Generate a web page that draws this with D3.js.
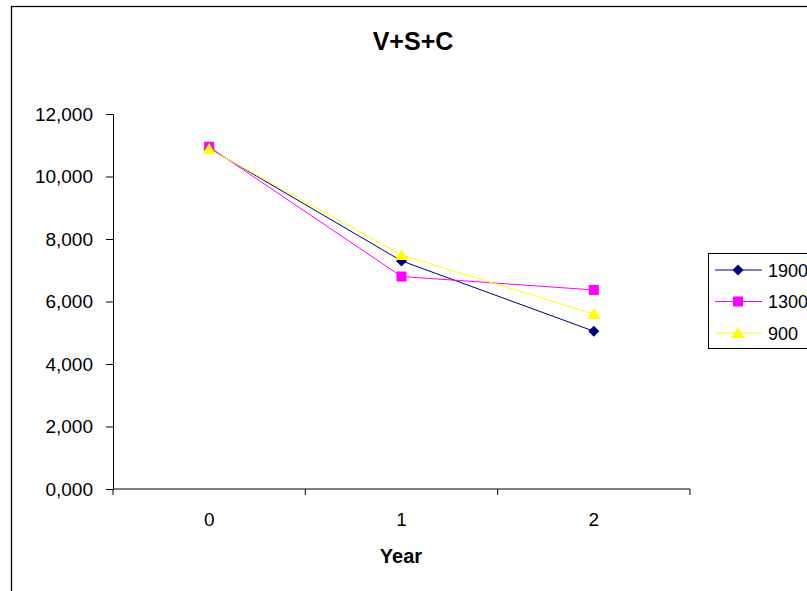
<!DOCTYPE html>
<html>
<head>
<meta charset="utf-8">
<script src="https://cdn.jsdelivr.net/npm/d3@7"></script>
<style>
  body { margin: 0; background: #fff; }
  svg { font-family: "Liberation Sans", Arial, sans-serif; }
</style>
</head>
<body>
<div id="chart"></div>
<script>
// chart data
var years = ["0", "1", "2"];
var seriesNames = ["1900", "1300", "900"];
var values1900 = [10900, 7300, 5050];
var values1300 = [10950, 6800, 6370];
var values900 = [10880, 7490, 5600];
var yTicks = [0, 2000, 4000, 6000, 8000, 10000, 12000];

const width = 807, height = 591;

const svg = d3.select("#chart").append("svg")
    .attr("width", width)
    .attr("height", height);

// outer frame of the chart area
svg.append("rect")
    .attr("x", 11.5).attr("y", 6.5)
    .attr("width", 820).attr("height", 600)
    .attr("fill", "none")
    .attr("stroke", "#000")
    .attr("stroke-width", 1.3);

var plot = { left: 113, right: 690, top: 114, bottom: 489 };

var x = d3.scaleBand()
    .domain(years)
    .range([plot.left, plot.right]);

var y = d3.scaleLinear()
    .domain([0, 12000])
    .range([plot.bottom, plot.top]);

// labels look like "12,000" ... "0,000"
var fmt = function(d){ return (d / 1000) + ",000"; };

// y axis
var yAxis = svg.append("g")
    .attr("transform", "translate(" + plot.left + ",0)")
    .call(d3.axisLeft(y).tickValues(yTicks).tickFormat(fmt).tickSize(7).tickPadding(13));
yAxis.attr("font-family", null).attr("font-size", null);
yAxis.select(".domain").attr("stroke", "#000");
yAxis.selectAll("text").style("font-size", "19px").attr("fill", "#000").attr("dy", "0.34em");

// x axis, ticks between the categories
var xAxis = svg.append("g")
    .attr("transform", "translate(0," + plot.bottom + ")");
xAxis.append("line")
    .attr("x1", plot.left).attr("x2", plot.right)
    .attr("stroke", "#000");
var bounds = years.map(function(d){ return x(d); }).concat([plot.right]);
xAxis.selectAll(".xt")
    .data(bounds)
    .enter().append("line")
    .attr("x1", function(d){ return d; })
    .attr("x2", function(d){ return d; })
    .attr("y1", 0).attr("y2", 6)
    .attr("stroke", "#000");
xAxis.selectAll(".xl")
    .data(years)
    .enter().append("text")
    .attr("x", function(d){ return x(d) + x.bandwidth() / 2; })
    .attr("y", 37)
    .attr("text-anchor", "middle")
    .style("font-size", "19px")
    .text(function(d){ return d; });

// titles
svg.append("text")
    .attr("x", 413).attr("y", 50)
    .attr("text-anchor", "middle")
    .style("font-size", "25px")
    .style("font-weight", "bold")
    .text("V+S+C");

svg.append("text")
    .attr("x", 401).attr("y", 563)
    .attr("text-anchor", "middle")
    .style("font-size", "20px")
    .style("font-weight", "bold")
    .text("Year");

// marker shapes
var diamond = { draw: function(ctx, size){ var r = 5.5; ctx.moveTo(0, -r); ctx.lineTo(r, 0); ctx.lineTo(0, r); ctx.lineTo(-r, 0); ctx.closePath(); } };
var square = { draw: function(ctx, size){ var r = 5; ctx.rect(-r, -r, 2 * r, 2 * r); } };
var triangle = { draw: function(ctx, size){ ctx.moveTo(0, -6); ctx.lineTo(6.5, 5); ctx.lineTo(-6.5, 5); ctx.closePath(); } };

// series
var series = [
    { name: seriesNames[0], values: values1900, color: "#000080", shape: diamond },
    { name: seriesNames[1], values: values1300, color: "#FF00FF", shape: square },
    { name: seriesNames[2], values: values900, color: "#FFFF00", shape: triangle }
];

var line = d3.line()
    .x(function(d, i){ return x(years[i]) + x.bandwidth() / 2; })
    .y(function(d){ return y(d); });

series.forEach(function(s){
    var g = svg.append("g");
    g.append("path")
        .attr("d", line(s.values))
        .attr("fill", "none")
        .attr("stroke", s.color)
        .attr("stroke-width", 1);
    g.selectAll("path.mk")
        .data(s.values)
        .enter().append("path")
        .attr("class", "mk")
        .attr("d", d3.symbol().type(s.shape))
        .attr("transform", function(d, i){
            return "translate(" + (x(years[i]) + x.bandwidth() / 2) + "," + y(d) + ")";
        })
        .attr("fill", s.color);
});

// legend
var legend = svg.append("g").attr("transform", "translate(708,253)");
legend.append("rect")
    .attr("x", 0.5).attr("y", 0.5)
    .attr("width", 120).attr("height", 95)
    .attr("fill", "#fff")
    .attr("stroke", "#000");

series.forEach(function(s, i){
    var yy = 17 + i * 31.5;
    legend.append("line")
        .attr("x1", 7).attr("x2", 54)
        .attr("y1", yy).attr("y2", yy)
        .attr("stroke", s.color);
    legend.append("path")
        .attr("d", d3.symbol().type(s.shape))
        .attr("transform", "translate(30," + yy + ")")
        .attr("fill", s.color);
    legend.append("text")
        .attr("x", 60).attr("y", yy + 6.5)
        .style("font-size", "18px")
        .text(s.name);
});
</script>
</body>
</html>
